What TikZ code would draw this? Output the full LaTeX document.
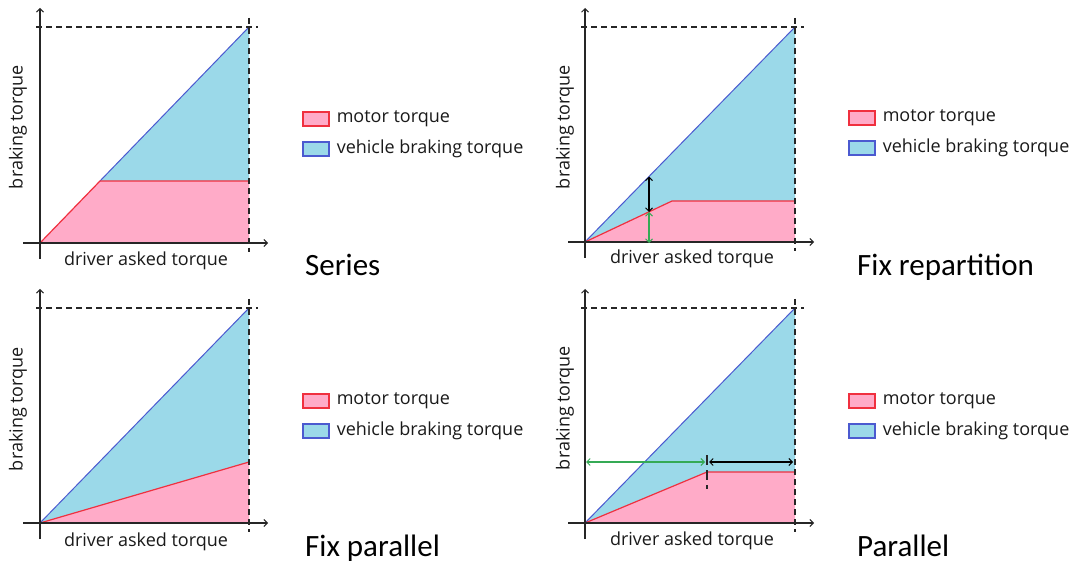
\documentclass[tikz,border=0pt]{standalone}
\usepackage{fontspec}
\setmainfont{Open Sans}
\newfontfamily\titlefont{Carlito}
\usetikzlibrary{arrows.meta}

\definecolor{motorfill}{HTML}{FFABC8}
\definecolor{motorline}{HTML}{F0303F}
\definecolor{vehfill}{HTML}{9BD9E9}
\definecolor{vehline}{HTML}{4B5AD0}
\definecolor{gapgreen}{HTML}{35AA55}
\definecolor{txt}{HTML}{1A1A1A}

\tikzset{
  tip/.tip={Straight Barb[length=3.5pt,width=7pt,line width=1pt]},
  axisline/.style={line width=1.4pt, draw=black!85, -tip},
  guide/.style={line width=1.3pt, draw=black!85, dash pattern=on 6pt off 4pt},
  motorarea/.style={fill=motorfill},
  veharea/.style={fill=vehfill},
  mline/.style={draw=motorline, line width=1.2pt, line join=round},
  vline/.style={draw=vehline, line width=1pt},
  dim/.style={line width=1.3pt, tip-tip},
  axlabel/.style={inner sep=0pt, text=txt, font=\fontsize{18}{21}\selectfont},
  legbox/.style={minimum width=26pt, minimum height=14pt, inner sep=0pt, line width=1.1pt},
  legtext/.style={inner sep=0pt, anchor=west, text=txt, font=\fontsize{18}{21}\selectfont},
  title/.style={inner sep=0pt, anchor=base west, text=black, font=\titlefont\fontsize{31}{36}\selectfont},
}

% Reference points of one chart: prefix, origin x, origin y, right edge x, top y
\newcommand\torquepoints[5]{%
  \coordinate (#1-O)   at (#2,#3);
  \coordinate (#1-xs)  at (#2-17,#3);
  \coordinate (#1-xe)  at (#4+19,#3);
  \coordinate (#1-ys)  at (#2,#3+16);
  \coordinate (#1-ye)  at (#2,#5-19);
  \coordinate (#1-TL)  at (#2-4,#5);
  \coordinate (#1-TR)  at (#4+9,#5);
  \coordinate (#1-RT)  at (#4,#5-9);
  \coordinate (#1-RB)  at (#4,#3+9);
  \coordinate (#1-top) at (#4,#5);
  \coordinate (#1-R)   at (#4,#3);
}
% Axes and dashed limit lines of one chart
\newcommand\torqueframe[1]{%
  \draw[guide] (#1-TL) -- (#1-TR);
  \draw[guide] (#1-RT) -- (#1-RB);
  \draw[axisline] (#1-xs) -- (#1-xe);
  \draw[axisline] (#1-ys) -- (#1-ye);
}
% Legend block: prefix, x of box centre, y of first row
\newcommand\torquelegend[3]{%
  \node[legbox, fill=motorfill, draw=motorline] (#1-mbox) at (#2,#3) {};
  \node[legtext] (#1-mtext) at ([xshift=7pt]#1-mbox.east) {motor torque};
  \node[legbox, fill=vehfill, draw=vehline] (#1-vbox) at (#2,#3+30) {};
  \node[legtext] (#1-vtext) at ([xshift=7pt]#1-vbox.east) {vehicle braking torque};
}

\begin{document}
\begin{tikzpicture}[x=1pt, y=-1pt]
\useasboundingbox[fill=white] (0,0) rectangle (1080,564);

% ---------------- Series ----------------
\torquepoints{s}{40}{243}{249}{27}
\coordinate (s-knee) at (100,181);
\coordinate (s-kr) at (249,181);
\fill[motorarea] (s-O) -- (s-knee) -- (s-kr) -- (s-R) -- cycle;
\fill[veharea] (s-knee) -- (s-top) -- (s-kr) -- cycle;
\draw[vline] (s-knee) -- (s-top);
\draw[mline] (s-O) -- (s-knee) -- (s-kr);
\torqueframe{s}
\node[axlabel] (s-xl) at (146,261) {driver asked torque};
\node[axlabel, rotate=90] (s-yl) at (18,127) {braking torque};
\torquelegend{sl}{316}{119}
\node[title] (s-title) at (305,276) {Series};

% ---------------- Fix repartition ----------------
\torquepoints{r}{585}{242}{795}{27}
\coordinate (r-knee) at (672,201);
\coordinate (r-kr) at (795,201);
\coordinate (r-a1) at (649,176.5);
\coordinate (r-a2) at (649,212);
\coordinate (r-a3) at (649,242);
\fill[motorarea] (r-O) -- (r-knee) -- (r-kr) -- (r-R) -- cycle;
\fill[veharea] (r-O) -- (r-top) -- (r-kr) -- (r-knee) -- cycle;
\draw[vline] (r-O) -- (r-top);
\draw[mline] (r-O) -- (r-knee) -- (r-kr);
\torqueframe{r}
\draw[dim, black] (r-a1) -- (r-a2);
\draw[dim, gapgreen] (r-a2) -- ([yshift=-1pt]r-a3);
\node[axlabel] (r-xl) at (692,259) {driver asked torque};
\node[axlabel, rotate=90] (r-yl) at (565,127) {braking torque};
\torquelegend{rl}{862}{118}
\node[title] (r-title) at (857,276) {Fix repartition};

% ---------------- Fix parallel ----------------
\torquepoints{f}{40}{523}{249}{308}
\coordinate (f-end) at (249,462);
\fill[motorarea] (f-O) -- (f-end) -- (f-R) -- cycle;
\fill[veharea] (f-O) -- (f-top) -- (f-end) -- cycle;
\draw[vline] (f-O) -- (f-top);
\draw[mline] (f-O) -- (f-end);
\torqueframe{f}
\node[axlabel] (f-xl) at (146,542) {driver asked torque};
\node[axlabel, rotate=90] (f-yl) at (18,409) {braking torque};
\torquelegend{fl}{316}{401}
\node[title] (f-title) at (305,556) {Fix parallel};

% ---------------- Parallel ----------------
\torquepoints{p}{585}{523}{795}{308}
\coordinate (p-knee) at (707,472);
\coordinate (p-kr) at (795,472);
\coordinate (p-tt) at (707,455);
\coordinate (p-tb) at (707,489);
\coordinate (p-g1) at (586,462);
\coordinate (p-g2) at (705,462);
\coordinate (p-b1) at (709,462);
\coordinate (p-b2) at (793,462);
\fill[motorarea] (p-O) -- (p-knee) -- (p-kr) -- (p-R) -- cycle;
\fill[veharea] (p-O) -- (p-top) -- (p-kr) -- (p-knee) -- cycle;
\draw[vline] (p-O) -- (p-top);
\draw[mline] (p-O) -- (p-knee) -- (p-kr);
\torqueframe{p}
\draw[guide, dash pattern=on 10pt off 5pt] (p-tt) -- (p-tb);
\draw[dim, gapgreen] (p-g1) -- (p-g2);
\draw[dim, black] (p-b1) -- (p-b2);
\node[axlabel] (p-xl) at (692,541) {driver asked torque};
\node[axlabel, rotate=90] (p-yl) at (565,408) {braking torque};
\torquelegend{pl}{862}{401}
\node[title] (p-title) at (857,556) {Parallel};
\end{tikzpicture}
\end{document}
